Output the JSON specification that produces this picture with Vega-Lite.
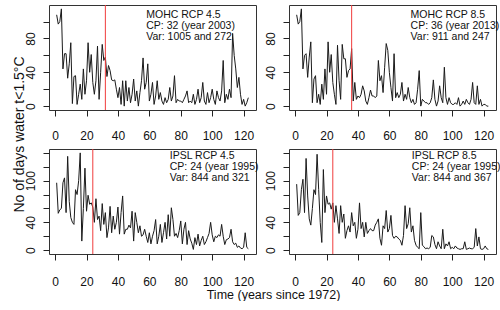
{
  "$schema": "https://vega.github.io/schema/vega-lite/v6.json",
  "padding": {"left": 11, "top": 4, "right": 0, "bottom": 0},
  "bounds": "flush",
  "columns": 2,
  "spacing": {"row": 39, "column": 33},
  "config": {
    "font": "Liberation Sans",
    "view": {"stroke": "#333", "strokeWidth": 1},
    "axis": {"domain": false, "grid": false, "tickSize": 6, "tickColor": "#222", "tickWidth": 1,
      "labelColor": "#111", "labelFont": "Liberation Sans", "labelFontSize": 12, "labelFlush": false, "labelOverlap": false, "labelBound": false,
      "titleFont": "Liberation Sans", "titleFontWeight": "normal", "titleColor": "#111", "titleFontSize": 13},
    "axisX": {"labelOverlap": false, "labelAngle": 0},
    "axisY": {"labelOverlap": false, "labelAngle": -90, "labelAlign": "center", "labelBaseline": "middle", "labelPadding": 13}
  },
  "datasets": {
    "mohc45": [108,97,100,115,44,62,62,33,50,75,3,35,36,2,14,26,8,44,14,30,75,40,61,28,14,30,71,8,40,73,54,58,35,48,42,31,30,31,20,10,22,2,30,0,30,6,22,4,14,32,6,18,0,16,30,57,20,28,50,6,14,28,2,12,30,8,16,6,2,10,4,8,22,6,12,36,4,8,6,6,4,8,12,18,4,6,4,14,2,8,20,4,10,28,6,2,16,4,10,20,8,2,18,10,6,18,54,4,14,8,20,10,86,60,44,22,34,14,2,8,0,4,10],
    "mohc85": [108,97,100,115,44,60,62,34,58,76,4,32,36,4,14,2,26,8,44,14,76,40,61,28,14,2,72,30,8,73,56,56,34,42,44,68,6,28,8,12,10,14,24,18,6,2,10,19,12,12,10,12,54,30,36,16,46,74,66,40,22,6,62,10,16,10,14,28,6,14,8,22,10,4,8,2,4,20,42,0,8,6,4,4,2,4,10,31,8,0,6,24,10,4,46,10,2,10,4,2,2,4,2,10,0,2,6,2,8,4,2,8,28,4,2,24,2,8,0,2,2,0,0],
    "ipsl45": [97,53,58,60,97,104,54,135,70,47,40,37,87,80,100,140,13,60,118,56,79,66,68,62,40,74,44,49,28,67,37,54,18,32,63,25,49,30,40,62,23,54,78,23,30,30,36,32,56,13,54,40,25,35,20,22,30,20,11,25,9,20,28,44,9,20,37,11,25,40,16,51,20,61,44,20,24,18,28,42,9,30,40,8,28,16,10,1,18,8,23,6,14,20,8,12,18,24,40,22,12,20,18,22,20,37,20,8,15,16,18,30,12,8,10,4,6,3,2,4,25,4,2],
    "ipsl85": [95,50,54,87,102,54,132,78,45,36,60,87,80,138,87,40,11,116,54,78,66,68,59,68,40,64,45,24,64,40,52,17,28,35,26,54,35,40,17,30,68,31,40,19,40,24,28,31,28,28,36,40,45,17,7,35,31,57,26,31,50,21,17,20,19,16,14,7,21,64,31,38,61,26,35,14,7,4,2,54,7,5,2,3,2,4,21,19,8,2,12,6,2,30,2,9,6,12,2,4,2,6,3,2,1,2,2,12,1,2,3,2,2,4,31,6,19,2,1,2,6,2,1]
  },
  "concat": [
    {
      "width": 207, "height": 105,
      "layer": [
        {"data": {"name": "mohc45"},
         "transform": [{"window": [{"op": "row_number", "as": "t"}]}],
         "mark": {"type": "line", "color": "#1a1a1a", "strokeWidth": 1},
         "encoding": {
           "x": {"field": "t", "type": "quantitative", "scale": {"domain": [-3.88, 127.88], "nice": false, "zero": false},
                 "axis": {"tickCount": 7, "title": null, "labelPadding": 14}},
           "y": {"field": "data", "type": "quantitative", "scale": {"domain": [-4.6, 119.6], "nice": false, "zero": false},
                 "axis": {"tickCount": 6, "labelExpr": "datum.value % 40 == 0 ? datum.label : ''",
                          "title": "No of days water t<1.5°C", "titleX": -30, "titleY": 129, "titleAngle": -90, "titleFontSize": 14,
                          "titleAlign": "center", "titleBaseline": "middle"}}
         }},
        {"data": {"values": [{"cp": 32}]}, "mark": {"type": "rule", "color": "#f03c3c", "strokeWidth": 1},
         "encoding": {"x": {"field": "cp", "type": "quantitative"}}},
        {"data": {"values": [{"label": "MOHC RCP 4.5\nCP: 32 (year 2003)\nVar: 1005  and 272"}]},
         "mark": {"type": "text", "align": "left", "baseline": "top", "lineBreak": "\n", "fontSize": 10.5, "lineHeight": 11, "color": "#111"},
         "encoding": {"x": {"datum": 58}, "y": {"datum": 113.7}, "text": {"field": "label"}}}
      ]
    },
    {
      "width": 207, "height": 105,
      "layer": [
        {"data": {"name": "mohc85"},
         "transform": [{"window": [{"op": "row_number", "as": "t"}]}],
         "mark": {"type": "line", "color": "#1a1a1a", "strokeWidth": 1},
         "encoding": {
           "x": {"field": "t", "type": "quantitative", "scale": {"domain": [-3.88, 127.88], "nice": false, "zero": false},
                 "axis": {"tickCount": 7, "title": null, "labelPadding": 14}},
           "y": {"field": "data", "type": "quantitative", "scale": {"domain": [-4.6, 119.6], "nice": false, "zero": false},
                 "axis": {"tickCount": 6, "labelExpr": "datum.value % 40 == 0 ? datum.label : ''", "title": null}}
         }},
        {"data": {"values": [{"cp": 36}]}, "mark": {"type": "rule", "color": "#f03c3c", "strokeWidth": 1},
         "encoding": {"x": {"field": "cp", "type": "quantitative"}}},
        {"data": {"values": [{"label": "MOHC RCP 8.5\nCP: 36 (year 2013)\nVar: 911 and 247"}]},
         "mark": {"type": "text", "align": "left", "baseline": "top", "lineBreak": "\n", "fontSize": 10.5, "lineHeight": 11, "color": "#111"},
         "encoding": {"x": {"datum": 73.5}, "y": {"datum": 113.7}, "text": {"field": "label"}}}
      ]
    },
    {
      "width": 207, "height": 105,
      "layer": [
        {"data": {"name": "ipsl45"},
         "transform": [{"window": [{"op": "row_number", "as": "t"}]}],
         "mark": {"type": "line", "color": "#1a1a1a", "strokeWidth": 1},
         "encoding": {
           "x": {"field": "t", "type": "quantitative", "scale": {"domain": [-3.88, 127.88], "nice": false, "zero": false},
                 "axis": {"tickCount": 7, "labelPadding": 16,
                          "title": "Time (years since 1972)", "titleX": 224, "titleY": 40, "titleAngle": 0, "titleFontSize": 12.5,
                          "titleAlign": "center", "titleBaseline": "middle"}},
           "y": {"field": "data", "type": "quantitative", "scale": {"domain": [-5.6, 145.6], "nice": false, "zero": false},
                 "axis": {"tickCount": 7, "labelExpr": "(datum.value == 0 || datum.value == 40 || datum.value == 100) ? datum.label : ''", "title": null}}
         }},
        {"data": {"values": [{"cp": 24}]}, "mark": {"type": "rule", "color": "#f03c3c", "strokeWidth": 1},
         "encoding": {"x": {"field": "cp", "type": "quantitative"}}},
        {"data": {"values": [{"label": "IPSL RCP 4.5\nCP: 24 (year 1995)\nVar: 844 and 321"}]},
         "mark": {"type": "text", "align": "left", "baseline": "top", "lineBreak": "\n", "fontSize": 10.5, "lineHeight": 11, "color": "#111"},
         "encoding": {"x": {"datum": 73}, "y": {"datum": 143}, "text": {"field": "label"}}}
      ]
    },
    {
      "width": 207, "height": 105,
      "layer": [
        {"data": {"name": "ipsl85"},
         "transform": [{"window": [{"op": "row_number", "as": "t"}]}],
         "mark": {"type": "line", "color": "#1a1a1a", "strokeWidth": 1},
         "encoding": {
           "x": {"field": "t", "type": "quantitative", "scale": {"domain": [-3.88, 127.88], "nice": false, "zero": false},
                 "axis": {"tickCount": 7, "title": null, "labelPadding": 16}},
           "y": {"field": "data", "type": "quantitative", "scale": {"domain": [-5.6, 145.6], "nice": false, "zero": false},
                 "axis": {"tickCount": 7, "labelExpr": "(datum.value == 0 || datum.value == 40 || datum.value == 100) ? datum.label : ''", "title": null}}
         }},
        {"data": {"values": [{"cp": 24}]}, "mark": {"type": "rule", "color": "#f03c3c", "strokeWidth": 1},
         "encoding": {"x": {"field": "cp", "type": "quantitative"}}},
        {"data": {"values": [{"label": "IPSL RCP 8.5\nCP: 24 (year 1995)\nVar: 844 and 367"}]},
         "mark": {"type": "text", "align": "left", "baseline": "top", "lineBreak": "\n", "fontSize": 10.5, "lineHeight": 11, "color": "#111"},
         "encoding": {"x": {"datum": 74.3}, "y": {"datum": 143}, "text": {"field": "label"}}}
      ]
    }
  ]
}
